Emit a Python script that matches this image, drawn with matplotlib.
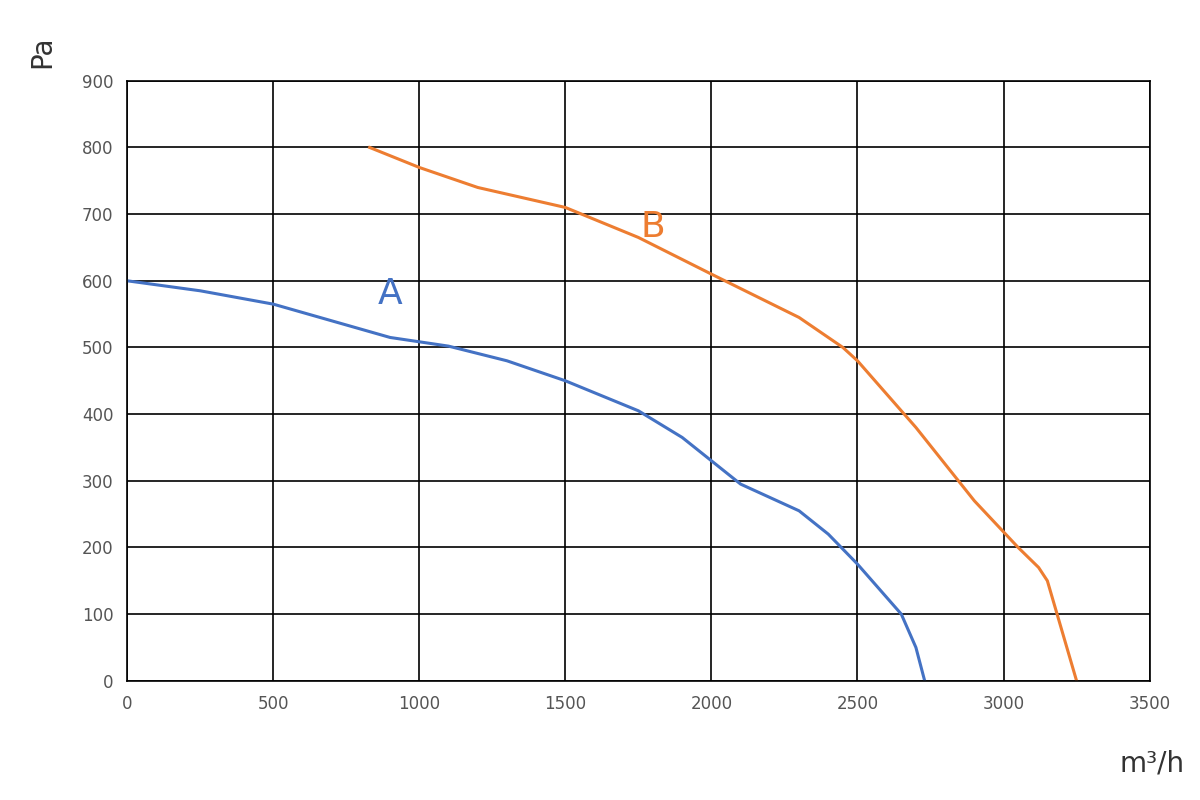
import matplotlib.pyplot as plt

# curve data
a_flow = [0, 250, 500, 700, 900, 1100, 1300, 1500, 1750, 1900, 2000, 2100, 2200, 2300, 2400, 2500, 2600, 2650, 2700, 2730]
a_pres = [600, 585, 565, 540, 515, 502, 480, 450, 405, 365, 330, 295, 275, 255, 220, 175, 125, 100, 50, 0]
b_flow = [830, 1000, 1200, 1400, 1500, 1750, 2000, 2300, 2450, 2500, 2700, 2900, 3050, 3120, 3150, 3200, 3250]
b_pres = [800, 770, 740, 720, 710, 665, 610, 545, 500, 480, 380, 270, 200, 170, 150, 75, 0]

fig = plt.figure(figsize=(12, 8), dpi=100)
ax = fig.add_axes([0.106, 0.149, 0.852, 0.75])

ax.plot(a_flow, a_pres, color='#4472C4', lw=2.2)
ax.plot(b_flow, b_pres, color='#ED7D31', lw=2.2)
ax.text(1800, 680, 'B', color='#ED7D31', fontsize=26, ha='center', va='center')
ax.text(900, 580, 'A', color='#4472C4', fontsize=26, ha='center', va='center')

ax.set_xlim(0, 3500)
ax.set_ylim(0, 900)
ax.set_xticks(range(0, 3501, 500))
ax.set_yticks(range(0, 901, 100))
ax.grid(True, color='black', lw=1.2)
for s in ax.spines.values():
    s.set_color('black')
    s.set_linewidth(1.2)
ax.tick_params(length=0, labelsize=12, colors='#555555', pad=10)

fig.text(0.035, 0.935, 'Pa', fontsize=20, rotation=90, color='#333333', ha='center', va='center')
fig.text(0.96, 0.045, 'm³/h', fontsize=20, color='#333333', ha='center', va='center')

fig.savefig('out.png')
